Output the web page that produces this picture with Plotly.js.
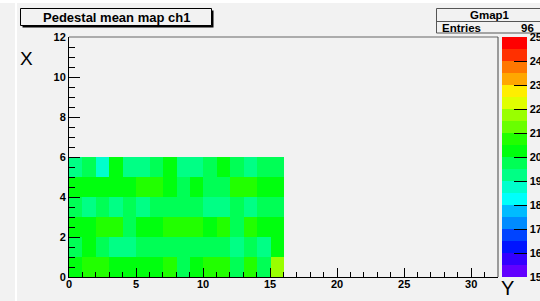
<!DOCTYPE html>
<html>
<head>
<meta charset="utf-8">
<script src="https://cdn.plot.ly/plotly-3.0.1.min.js"></script>
<style>
html,body{margin:0;padding:0;background:#f2f2f2;}
#chart{width:540px;height:301px;}
</style>
</head>
<body>
<div id="chart"></div>
<script>
// Bin centres along the horizontal axis ("Y") and vertical axis ("X")
const yBinCenters = [0.5, 1.5, 2.5, 3.5, 4.5, 5.5, 6.5, 7.5, 8.5, 9.5, 10.5, 11.5, 12.5, 13.5, 14.5, 15.5];
const xBinCenters = [0.5, 1.5, 2.5, 3.5, 4.5, 5.5];

// Pedestal mean per cell, one array per X row (bottom to top)
const rowX0 = [20.2, 20.7, 20.8, 20.3, 20.2, 20.1, 20.3, 20.7, 19.8, 20.2, 20.8, 20.7, 19.7, 20.8, 19.7, 21.7];
const rowX1 = [19.7, 20.2, 19.8, 19.3, 19.2, 19.7, 19.8, 19.7, 19.6, 19.8, 19.7, 19.8, 19.3, 19.7, 19.2, 20.3];
const rowX2 = [20.2, 20.3, 20.7, 20.8, 19.7, 20.2, 20.1, 20.7, 20.8, 20.7, 20.3, 20.7, 19.8, 20.7, 20.2, 20.3];
const rowX3 = [19.7, 19.3, 19.8, 19.2, 19.7, 19.3, 19.8, 19.7, 19.8, 19.6, 19.3, 19.2, 19.7, 19.3, 19.8, 19.7];
const rowX4 = [20.2, 20.3, 20.1, 20.2, 20.3, 20.7, 20.8, 20.2, 19.7, 20.2, 19.8, 19.7, 20.7, 20.8, 20.2, 20.3];
const rowX5 = [19.3, 19.7, 18.8, 20.2, 19.2, 19.3, 19.7, 20.2, 19.2, 19.3, 19.7, 20.3, 19.8, 19.3, 19.7, 19.8];

const zMin = 15, zMax = 25;
const colorTicks = [15, 16, 17, 18, 19, 20, 21, 22, 23, 24, 25];
const xTicks = [0, 5, 10, 15, 20, 25, 30];
const yTicks = [0, 2, 4, 6, 8, 10, 12];

// ROOT-like 20-level rainbow palette (bottom to top)
const paletteColors = [
  '#6200ff', '#3300ff', '#0014ff', '#0044ff', '#008bff',
  '#00bbff', '#00fffb', '#00ffcc', '#00ff85', '#00ff55',
  '#00ff0e', '#22ff00', '#69ff00', '#99ff00', '#e0ff00',
  '#ffee00', '#ffa700', '#ff7700', '#ff3000', '#ff0000'
];
const colorscale = [];
paletteColors.forEach((c, i) => {
  colorscale.push([i / paletteColors.length, c]);
  colorscale.push([(i + 1) / paletteColors.length, c]);
});

const L = 69, R = 498, T = 37, B = 277, W = 540, H = 301;
const px = v => (v - L) / (R - L);
const py = v => (B - v) / (B - T);

const trace = {
  type: 'heatmap',
  x: yBinCenters,
  y: xBinCenters,
  z: [rowX0, rowX1, rowX2, rowX3, rowX4, rowX5],
  zmin: zMin, zmax: zMax,
  zsmooth: false,
  colorscale: colorscale,
  hoverinfo: 'x+y+z',
  colorbar: {
    thickness: 25, thicknessmode: 'pixels',
    len: 1, lenmode: 'fraction',
    x: px(502), xanchor: 'left', xref: 'paper',
    y: 0.5, yanchor: 'middle',
    xpad: 0, ypad: 0,
    outlinewidth: 0,
    tickmode: 'array', tickvals: colorTicks,
    ticks: 'inside', ticklen: 13, tickcolor: '#000', tickwidth: 1,
    tickfont: {family: 'Liberation Sans, Arial, sans-serif', size: 11, color: '#000', weight: 'bold'}
  }
};

const axisFont = {family: 'Liberation Sans, Arial, sans-serif', size: 11, color: '#000', weight: 'bold'};

const layout = {
  width: W, height: H,
  margin: {l: L, r: W - R, t: T, b: H - B, pad: 0, autoexpand: false},
  paper_bgcolor: '#f2f2f2',
  plot_bgcolor: '#f2f2f2',
  showlegend: false,
  xaxis: {
    range: [0, 32], tickmode: 'array', tickvals: xTicks,
    ticks: 'inside', ticklen: 9, tickcolor: '#000', tickwidth: 1,
    minor: {dtick: 1, ticks: 'inside', ticklen: 5, tickcolor: '#000', tickwidth: 1, showgrid: false},
    showgrid: false, zeroline: false,
    showline: true, mirror: false, linecolor: '#000', linewidth: 1,
    ticklabelstandoff: -3,
    tickfont: axisFont, fixedrange: true
  },
  yaxis: {
    range: [0, 12], tickmode: 'array', tickvals: yTicks,
    ticks: 'inside', ticklen: 11, tickcolor: '#000', tickwidth: 1,
    minor: {dtick: 0.5, ticks: 'inside', ticklen: 6, tickcolor: '#000', tickwidth: 1, showgrid: false},
    showgrid: false, zeroline: false,
    showline: true, mirror: false, linecolor: '#000', linewidth: 1,
    tickfont: axisFont, fixedrange: true
  },
  shapes: [
    // white canvas edges
    {type: 'rect', xref: 'paper', yref: 'paper', x0: px(-2), x1: px(W + 2), y0: py(0), y1: py(3), fillcolor: '#ffffff', line: {width: 0}, layer: 'below'},
    {type: 'rect', xref: 'paper', yref: 'paper', x0: px(15), x1: px(17), y0: py(H + 2), y1: py(0), fillcolor: '#ffffff', line: {width: 0}, layer: 'below'},
    // frame top and right edges (grey as in ROOT)
    {type: 'line', xref: 'paper', yref: 'paper', x0: 0, x1: 1, y0: 1, y1: 1, line: {width: 1, color: '#666'}},
    {type: 'line', xref: 'paper', yref: 'paper', x0: 1, x1: 1, y0: 0, y1: 1, line: {width: 1, color: '#444'}},
    // title box shadow + box
    {type: 'rect', xref: 'paper', yref: 'paper', x0: px(22.5), x1: px(213.5), y0: py(27.5), y1: py(10.5), fillcolor: '#000', line: {width: 0}},
    {type: 'rect', xref: 'paper', yref: 'paper', x0: px(20.5), x1: px(211.5), y0: py(25.5), y1: py(8.5), fillcolor: '#f2f2f2', line: {width: 1, color: '#000'}},
    // stats box
    {type: 'rect', xref: 'paper', yref: 'paper', x0: px(436.5), x1: px(548), y0: py(33), y1: py(8.5), fillcolor: '#f2f2f2', line: {width: 1, color: '#555'}},
    {type: 'line', xref: 'paper', yref: 'paper', x0: px(436.5), x1: px(548), y0: py(21.5), y1: py(21.5), line: {width: 1, color: '#555'}}
  ],
  annotations: [
    {xref: 'paper', yref: 'paper', x: px(116), y: py(17.5), xanchor: 'center', yanchor: 'middle',
     text: 'Pedestal mean map ch1', showarrow: false,
     font: {family: 'Liberation Sans, Arial, sans-serif', size: 13, color: '#000', weight: 'bold'}},
    {xref: 'paper', yref: 'paper', x: px(490), y: py(15), xanchor: 'center', yanchor: 'middle',
     text: 'Gmap1', showarrow: false,
     font: {family: 'Liberation Sans, Arial, sans-serif', size: 11.5, color: '#000', weight: 'bold'}},
    {xref: 'paper', yref: 'paper', x: px(440), y: py(27.5), xanchor: 'left', yanchor: 'middle',
     text: 'Entries', showarrow: false,
     font: {family: 'Liberation Sans, Arial, sans-serif', size: 11.5, color: '#000', weight: 'bold'}},
    {xref: 'paper', yref: 'paper', x: px(536), y: py(27.5), xanchor: 'right', yanchor: 'middle',
     text: '96', showarrow: false,
     font: {family: 'Liberation Sans, Arial, sans-serif', size: 11.5, color: '#000', weight: 'bold'}},
    // axis titles (ROOT places them at the axis ends)
    {xref: 'paper', yref: 'paper', x: px(26), y: py(58), xanchor: 'center', yanchor: 'middle',
     text: 'X', showarrow: false,
     font: {family: 'Liberation Sans, Arial, sans-serif', size: 19, color: '#000'}},
    {xref: 'paper', yref: 'paper', x: px(507), y: py(301), xanchor: 'center', yanchor: 'bottom',
     text: 'Y', showarrow: false,
     font: {family: 'Liberation Sans, Arial, sans-serif', size: 20, color: '#000'}}
  ]
};

Plotly.newPlot('chart', [trace], layout, {staticPlot: true, displayModeBar: false});
</script>
</body>
</html>
